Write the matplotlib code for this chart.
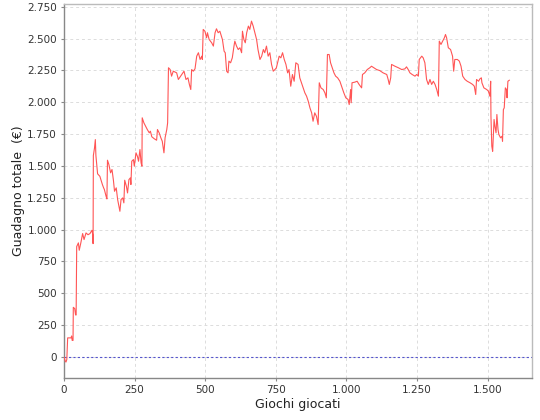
import numpy as np
import matplotlib.pyplot as plt
from matplotlib.ticker import FuncFormatter, MultipleLocator

# games played vs. cumulative gain (EUR)
games = [0, 4, 7, 10, 13, 25, 27, 29, 32, 33, 38, 41, 43, 45, 51, 54, 60, 66, 71, 78,
         85, 92, 99, 102, 103, 104, 108, 111, 113, 119, 127, 136, 140, 143, 149, 152,
         154, 159, 165, 170, 175, 179, 185, 190, 198, 202, 208, 212, 215, 221, 225,
         230, 235, 237, 240, 246, 249, 255, 260, 264, 269, 273, 276, 277, 283, 289,
         295, 302, 306, 311, 320, 328, 331, 337, 343, 348, 354, 358, 364, 367, 370,
         376, 381, 387, 399, 405, 413, 425, 432, 439, 444, 449, 452, 458, 464, 470,
         476, 482, 488, 490, 493, 499, 505, 508, 514, 523, 529, 535, 540, 546, 552,
         561, 567, 571, 576, 581, 584, 590, 596, 602, 605, 611, 617, 623, 629, 632,
         637, 642, 647, 653, 658, 664, 670, 676, 682, 687, 694, 700, 706, 711, 717,
         723, 729, 735, 741, 747, 752, 762, 768, 774, 780, 786, 792, 797, 803, 809,
         815, 821, 829, 835, 841, 847, 853, 859, 865, 871, 877, 882, 888, 894, 900,
         904, 910, 918, 924, 929, 933, 939, 944, 950, 956, 962, 969, 977, 983, 991,
         998, 1006, 1010, 1015, 1017, 1020, 1030, 1038, 1045, 1054, 1057, 1065, 1074,
         1083, 1089, 1097, 1107, 1118, 1130, 1143, 1148, 1152, 1157, 1160, 1172, 1184,
         1196, 1207, 1213, 1219, 1225, 1233, 1243, 1249, 1255, 1258, 1267, 1272, 1278,
         1284, 1290, 1296, 1302, 1308, 1314, 1320, 1326, 1329, 1335, 1341, 1347, 1351,
         1355, 1361, 1369, 1376, 1380, 1384, 1393, 1400, 1406, 1412, 1420, 1428, 1438,
         1447, 1453, 1458, 1461, 1468, 1473, 1478, 1480, 1487, 1497, 1503, 1508, 1511,
         1512, 1515, 1518, 1523, 1526, 1530, 1533, 1537, 1540, 1546, 1551, 1553, 1556,
         1559, 1563, 1567, 1569, 1572, 1577]
gain = [0, -30, -40, -20, 150, 150, 165, 130, 130, 390, 380, 330, 330, 867, 896, 838,
        900, 969, 922, 974, 960, 969, 995, 960, 890, 1582, 1640, 1707, 1582, 1438, 1419,
        1354, 1330, 1315, 1262, 1241, 1545, 1511, 1446, 1472, 1388, 1301, 1328, 1236,
        1144, 1236, 1249, 1210, 1388, 1340, 1288, 1393, 1406, 1354, 1537, 1550, 1498,
        1603, 1576, 1537, 1629, 1524, 1498, 1878, 1838, 1812, 1786, 1760, 1773, 1729,
        1713, 1702, 1786, 1760, 1721, 1694, 1603, 1721, 1786, 1838, 2271, 2257, 2205,
        2244, 2231, 2179, 2205, 2244, 2179, 2192, 2140, 2100, 2257, 2244, 2263, 2362,
        2389, 2336, 2362, 2336, 2572, 2558, 2506, 2546, 2493, 2467, 2441, 2546, 2577,
        2546, 2558, 2493, 2401, 2389, 2244, 2231, 2323, 2310, 2349, 2441, 2480, 2441,
        2414, 2428, 2389, 2558, 2493, 2467, 2546, 2598, 2572, 2637, 2598, 2546, 2493,
        2414, 2336, 2362, 2414, 2389, 2441, 2362, 2389, 2297, 2244, 2257, 2270, 2362,
        2349, 2389, 2336, 2297, 2231, 2257, 2126, 2218, 2165, 2310, 2297, 2192, 2153,
        2113, 2074, 2048, 2008, 1956, 1917, 1851, 1917, 1890, 1825, 2153, 2113, 2100,
        2074, 2035, 2375, 2375, 2310, 2271, 2231, 2205, 2192, 2165, 2126, 2074, 2035,
        2022, 1982, 2100, 1996, 2153, 2158, 2165, 2140, 2113, 2218, 2231, 2257, 2271,
        2283, 2271, 2257, 2249, 2231, 2218, 2179, 2140, 2192, 2297, 2283, 2271, 2257,
        2262, 2278, 2257, 2231, 2218, 2205, 2218, 2205, 2336, 2362, 2349, 2310, 2179,
        2140, 2179, 2140, 2165, 2140, 2100, 2048, 2480, 2454, 2480, 2506, 2532, 2506,
        2428, 2414, 2362, 2244, 2336, 2336, 2323, 2283, 2205, 2179, 2165, 2153, 2140,
        2126, 2061, 2179, 2165, 2184, 2192, 2153, 2113, 2100, 2087, 2048, 2165, 1890,
        1655, 1615, 1865, 1812, 1760, 1904, 1786, 1747, 1721, 1733, 1694, 1943, 1956,
        2113, 2100, 2035, 2165, 2173]


def it_fmt(v, pos):
    return "{:,.0f}".format(v).replace(",", ".")


fig = plt.figure(figsize=(5.4, 4.2), dpi=100)
ax = fig.add_axes([0.1185, 0.1, 0.8665, 0.89])

ax.plot(games, gain, color="#ff5555", linewidth=0.8, zorder=3)
ax.axhline(0, color="#5555cc", linewidth=0.8, linestyle=(0, (2, 2)), zorder=2)

ax.set_xlim(0, 1657)
ax.set_ylim(-165, 2770)
ax.xaxis.set_major_locator(MultipleLocator(250))
ax.yaxis.set_major_locator(MultipleLocator(250))
ax.xaxis.set_major_formatter(FuncFormatter(it_fmt))
ax.yaxis.set_major_formatter(FuncFormatter(it_fmt))

ax.grid(True, color="#dcdcdc", linestyle=(0, (3, 3)), linewidth=0.7)
ax.set_axisbelow(True)

for side in ["left", "bottom"]:
    ax.spines[side].set_color("#888888")
    ax.spines[side].set_linewidth(1.0)
for side in ["top", "right"]:
    ax.spines[side].set_color("#bbbbbb")
    ax.spines[side].set_linewidth(1.0)

ax.tick_params(labelsize=7.5, length=2, color="#888888", labelcolor="#333333", pad=3)
ax.set_xlabel("Giochi giocati", fontsize=9, color="#222222", labelpad=2)
ax.set_ylabel("Guadagno totale  (€)", fontsize=9, color="#222222", labelpad=2)

plt.savefig("out.png", dpi=100)
plt.close()
